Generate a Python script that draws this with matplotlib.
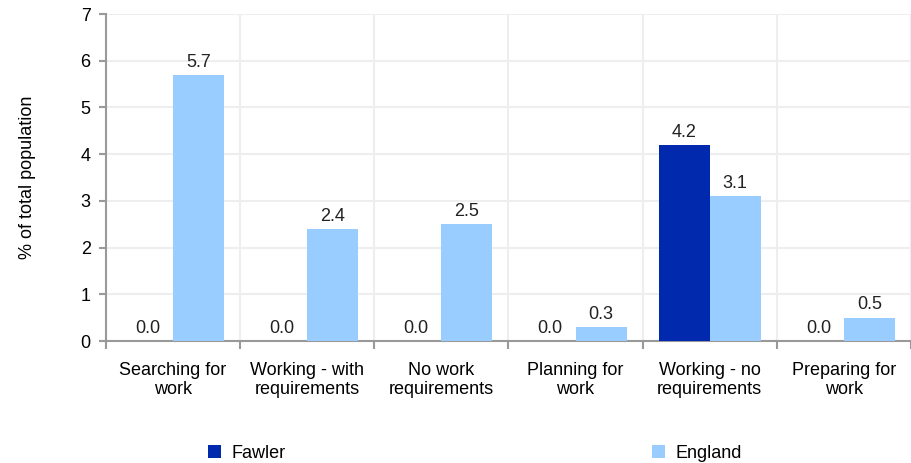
import matplotlib.pyplot as plt
import numpy as np

plt.rcParams['font.family'] = ['Liberation Sans', 'DejaVu Sans']

categories = ["Searching for\nwork", "Working - with\nrequirements", "No work\nrequirements",
              "Planning for\nwork", "Working - no\nrequirements", "Preparing for\nwork"]
fawler = [0.0, 0.0, 0.0, 0.0, 4.2, 0.0]
england = [5.7, 2.4, 2.5, 0.3, 3.1, 0.5]

fig = plt.figure(figsize=(9.11, 4.63), dpi=100)
ax = fig.add_axes([106/911, (463-341)/463, (911-106)/911, (341-14)/463])

x = np.arange(len(categories))
w = 0.38
b1 = ax.bar(x - w/2, fawler, w, color="#0029ae", label="Fawler", zorder=3)
b2 = ax.bar(x + w/2, england, w, color="#99ccff", label="England", zorder=3)
for bars in (b1, b2):
    ax.bar_label(bars, fmt="%.1f", padding=3, fontsize=13, color="#222222")

ax.set_ylim(0, 7)
ax.set_xlim(-0.5, 5.36)
ax.set_yticks(range(0, 8))
ax.set_xticks(np.arange(-0.5, 6, 1), minor=False)
ax.set_xticklabels([])
ax.set_xticks(x, minor=True)
ax.set_xticklabels(categories, minor=True, fontsize=13)
ax.tick_params(axis="x", which="minor", length=0, pad=15)
ax.tick_params(axis="x", which="major", length=6, color="#999999", width=1.5)
ax.tick_params(axis="y", length=5, color="#999999", width=1.5, labelsize=13, pad=6)
ax.grid(True, which="major", color="#eeeeee", linewidth=1.5, zorder=0)
for s in ["top", "right"]:
    ax.spines[s].set_visible(False)
for s in ["left", "bottom"]:
    ax.spines[s].set_color("#999999")
    ax.spines[s].set_linewidth(1.5)
ax.set_ylabel("% of total population", fontsize=13)
ax.yaxis.set_label_coords(-70/805, 0.5)

fig.legend(handles=[b1, b2], loc="lower left", bbox_to_anchor=(192/911, -0.032), ncol=2,
           frameon=False, fontsize=13, handlelength=0.7, handleheight=0.7,
           columnspacing=20.3, handletextpad=0.6)

fig.savefig("out.png", dpi=100)
